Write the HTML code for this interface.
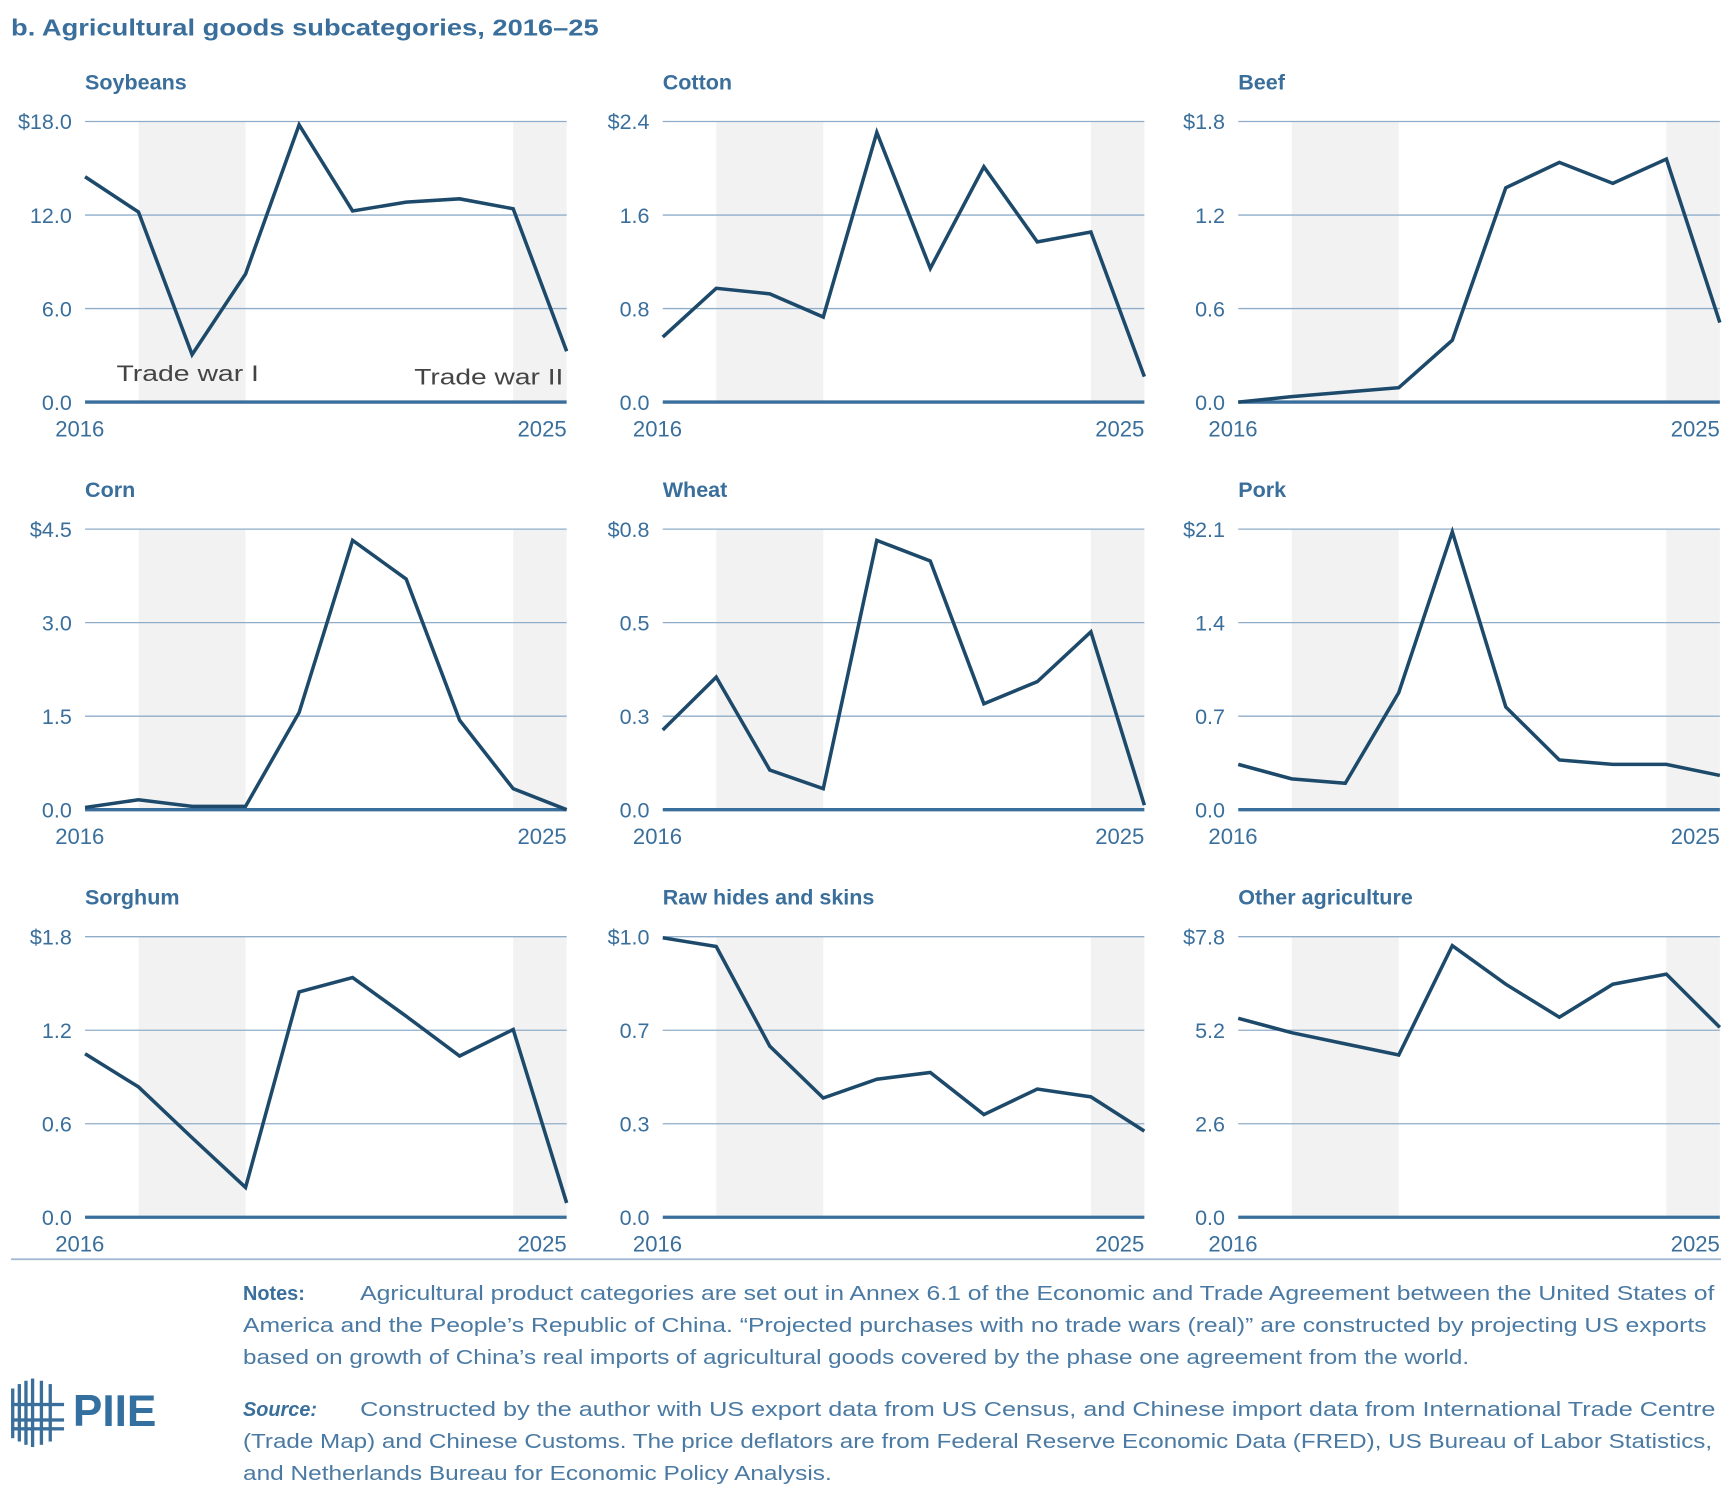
<!DOCTYPE html>
<html><head><meta charset="utf-8"><style>
html,body{margin:0;padding:0;background:#fff;}
svg{display:block;font-family:"Liberation Sans",sans-serif;}
</style></head><body>
<svg id="chart" width="1732" height="1510" viewBox="0 0 1568 1367" preserveAspectRatio="none" xmlns="http://www.w3.org/2000/svg">
<text x="10" y="32" font-size="21" font-weight="bold" fill="#3a6f9c" textLength="532" lengthAdjust="spacingAndGlyphs">b. Agricultural goods subcategories, 2016–25</text>
<g id="panels"></g>
<line x1="10" y1="1140" x2="1558" y2="1140" stroke="#9db6cf" stroke-width="1.5"/>
<g>
<rect x="10" y="1257" width="3" height="45" fill="#3a6f9c"/><rect x="16" y="1253" width="3" height="52" fill="#3a6f9c"/><rect x="22" y="1250" width="3" height="58" fill="#3a6f9c"/>
<rect x="28" y="1248" width="3" height="62" fill="#3a6f9c"/><rect x="36" y="1250" width="3" height="58" fill="#3a6f9c"/><rect x="44" y="1253" width="3" height="52" fill="#3a6f9c"/>
<rect x="10" y="1270" width="48" height="3" fill="#3a6f9c"/><rect x="10" y="1284" width="48" height="3" fill="#3a6f9c"/><rect x="10" y="1292" width="48" height="3" fill="#3a6f9c"/>
<text x="66" y="1291" font-size="40" font-weight="bold" fill="#336f9f">PIIE</text>
</g>
<g font-size="18" fill="#4a7aa3">
<text x="220" y="1177"><tspan font-weight="bold" fill="#3a6f9c">Notes:</tspan><tspan x="326" textLength="1226" lengthAdjust="spacingAndGlyphs">Agricultural product categories are set out in Annex 6.1 of the Economic and Trade Agreement between the United States of</tspan></text>
<text x="220" y="1206" textLength="1325" lengthAdjust="spacingAndGlyphs">America and the People’s Republic of China. “Projected purchases with no trade wars (real)” are constructed by projecting US exports</text>
<text x="220" y="1235" textLength="1110" lengthAdjust="spacingAndGlyphs">based on growth of China’s real imports of agricultural goods covered by the phase one agreement from the world.</text>
</g>
<g font-size="18" fill="#4a7aa3">
<text x="220" y="1282"><tspan font-weight="bold" font-style="italic" fill="#3a6f9c">Source:</tspan><tspan x="326" textLength="1227" lengthAdjust="spacingAndGlyphs">Constructed by the author with US export data from US Census, and Chinese import data from International Trade Centre</tspan></text>
<text x="220" y="1311" textLength="1330" lengthAdjust="spacingAndGlyphs">(Trade Map) and Chinese Customs. The price deflators are from Federal Reserve Economic Data (FRED), US Bureau of Labor Statistics,</text>
<text x="220" y="1340" textLength="533" lengthAdjust="spacingAndGlyphs">and Netherlands Bureau for Economic Policy Analysis.</text>
</g>
</svg>
<script>
const years = [2016,2017,2018,2019,2020,2021,2022,2023,2024,2025];
const titles = ["Soybeans","Cotton","Beef","Corn","Wheat","Pork","Sorghum","Raw hides and skins","Other agriculture"];
const maxVals = [18,2.4,1.8,4.5,0.8,2.1,1.8,1.0,7.8];
const tickLabels = [
 ["0.0","6.0","12.0","$18.0"],["0.0","0.8","1.6","$2.4"],["0.0","0.6","1.2","$1.8"],
 ["0.0","1.5","3.0","$4.5"],["0.0","0.3","0.5","$0.8"],["0.0","0.7","1.4","$2.1"],
 ["0.0","0.6","1.2","$1.8"],["0.0","0.3","0.7","$1.0"],["0.0","2.6","5.2","$7.8"]];
const soybeans = [14.46,12.19,3.05,8.22,17.79,12.26,12.83,13.04,12.40,3.26];
const cotton = [0.557,0.973,0.926,0.728,2.306,1.143,2.013,1.370,1.455,0.217];
const beef = [0,0.035,0.064,0.092,0.397,1.375,1.538,1.403,1.559,0.510];
const corn = [0.035,0.159,0.053,0.053,1.559,4.32,3.70,1.435,0.337,0];
const wheat = [0.227,0.378,0.113,0.06,0.768,0.709,0.302,0.365,0.507,0.013];
const pork = [0.339,0.231,0.198,0.876,2.08,0.769,0.372,0.339,0.339,0.256];
const sorghum = [1.049,0.836,0.510,0.191,1.446,1.538,1.290,1.035,1.205,0.092];
const rawHides = [0.996,0.965,0.610,0.425,0.492,0.516,0.366,0.457,0.429,0.307];
const otherAg = [5.53,5.13,4.82,4.51,7.55,6.48,5.56,6.48,6.76,5.28];
const series = [soybeans,cotton,beef,corn,wheat,pork,sorghum,rawHides,otherAg];
const shadeRanges = [[2017,2019],[2024,2025]];

const NS="http://www.w3.org/2000/svg";
const root=document.getElementById('panels');
function mk(tag,attrs,parent){const e=document.createElementNS(NS,tag);for(const k in attrs)e.setAttribute(k,attrs[k]);parent.appendChild(e);return e;}
const colX=[77,600,1121], rowTop=[110,479,848], W=436, H=254;
titles.forEach((t,i)=>{
  const c=i%3,r=Math.floor(i/3),x0=colX[c],yt=rowTop[r],yb=yt+H;
  const xs=v=>x0+(v-years[0])/(years[years.length-1]-years[0])*W;
  const ys=v=>yb-v/maxVals[i]*H;
  const g=mk('g',{},root);
  
  
  shadeRanges.forEach(s=>{
    const rc=mk('rect',{x:xs(s[0]),y:yt,width:xs(s[1])-xs(s[0]),height:H,fill:'#f2f2f2'},g);
    
    
  });
  tickLabels[i].forEach((lab,k)=>{
    const y=yb-k/3*H;
    if(k>0){const gl=mk('line',{x1:x0,x2:x0+W,y1:y,y2:y,stroke:'#8fadc9','stroke-width':1.2},g);
      
      }
    const tx=mk('text',{x:x0-12,y:y+7,'text-anchor':'end','font-size':19.5,fill:'#3a6f9c'},g);
    
    
    tx.textContent=lab;
  });
  const base=mk('line',{x1:x0,x2:x0+W,y1:yb,y2:yb,stroke:'#3a6f9c','stroke-width':3},g);
  
  
  const pts=series[i].map((v,k)=>xs(years[k]).toFixed(1)+','+ys(v).toFixed(1)).join(' ');
  const pl=mk('polyline',{points:pts,fill:'none',stroke:'#1d4a6b','stroke-width':3.2,'stroke-linejoin':'miter'},g);
  
  
  const tt=mk('text',{x:x0,y:yt-29,'font-size':19.5,'font-weight':'bold',fill:'#3a6f9c'},g);
  
  
  tt.textContent=t;
  [[years[0],'start'],[years[years.length-1],'end']].forEach(([yr,anc])=>{
    const xt=mk('text',{x:anc==='start'?x0-27:x0+W,y:yb+31,'text-anchor':anc,'font-size':20,fill:'#3a6f9c'},g);
    
    
    xt.textContent=yr;
  });
  if(i===0){
    const a=mk('text',{x:xs(2017)-20,y:yb-19,'font-size':20,fill:'#444',textLength:129,lengthAdjust:'spacingAndGlyphs'},g);
    
    
    a.textContent='Trade war I';
    const b=mk('text',{x:x0+W-138,y:yb-16,'font-size':20,fill:'#444',textLength:135,lengthAdjust:'spacingAndGlyphs'},g);
    
    
    b.textContent='Trade war II';
  }
});
</script>
</body></html>
